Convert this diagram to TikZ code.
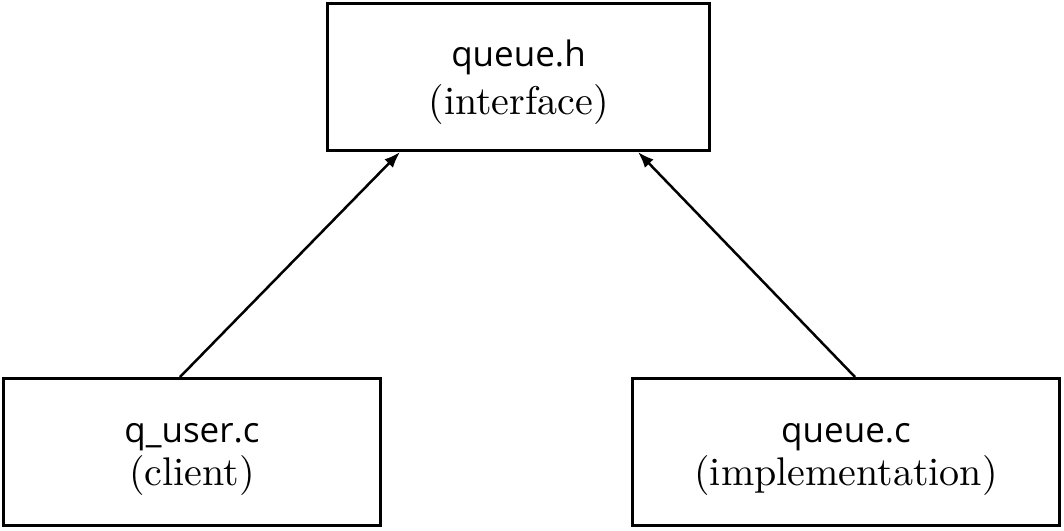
\documentclass[tikz,border=0pt]{standalone}
\usepackage{fontspec}
\newfontfamily\sansf{Open Sans}
\newfontfamily\serf{lmroman10-regular.otf}
\usetikzlibrary{calc,arrows.meta}
\begin{document}
\begin{tikzpicture}[x=1pt,y=1pt,
  box/.style={draw, line width=3pt, minimum height=147pt, align=center, inner sep=0pt},
  conn/.style={line width=2.5pt, -{Latex[length=16pt,width=12pt]}}]
\useasboundingbox (0,0) rectangle (1064,530);
\node[box, minimum width=382pt, font=\serf\fontsize{40}{48}\selectfont] (h) at (518.5,453)
  {{\sansf\fontsize{35}{35}\selectfont\rule{0pt}{38pt}queue.h}\\(interface)};
\node[box, minimum width=377pt, font=\serf\fontsize{40}{43}\selectfont] (u) at (192,78)
  {{\sansf\fontsize{35}{35}\selectfont\rule{0pt}{33pt}q\_user.c}\\(client)};
\node[box, minimum width=427pt, font=\serf\fontsize{40}{43}\selectfont] (c) at (846,78)
  {{\sansf\fontsize{35}{35}\selectfont\rule{0pt}{33pt}queue.c}\\(implementation)};
\draw[conn] ([xshift=-12pt]u.north) -- ([xshift=-118.5pt]h.south);
\draw[conn] ([xshift=9pt]c.north) -- ([xshift=119.5pt]h.south);
\end{tikzpicture}
\end{document}
